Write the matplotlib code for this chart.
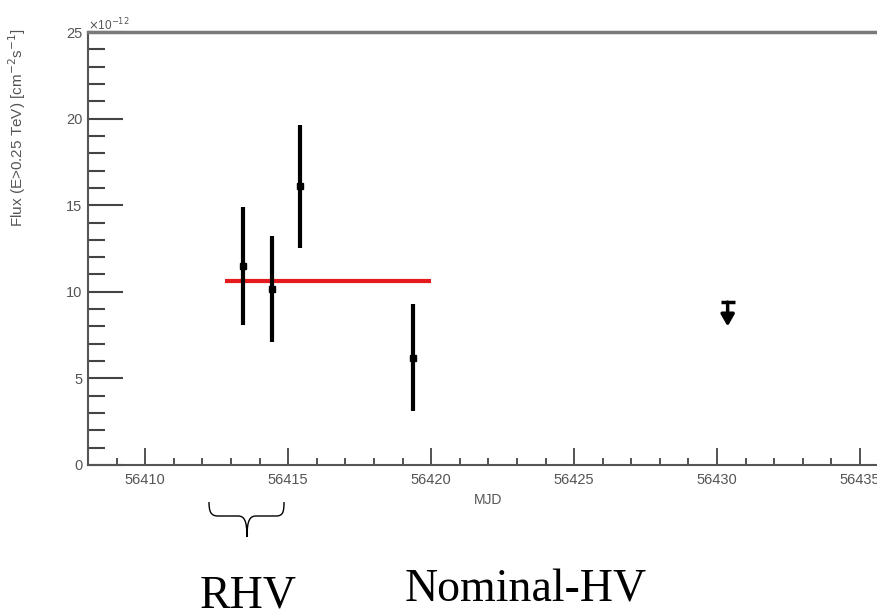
import matplotlib.pyplot as plt
from matplotlib.path import Path
from matplotlib.patches import PathPatch
from matplotlib.ticker import MultipleLocator

# light curve points (MJD, flux in 1e-12 cm-2 s-1)
mjd = [56413.43, 56414.44, 56415.41, 56419.36]
flux = [11.5, 10.15, 16.1, 6.2]
flux_err = [3.4, 3.05, 3.55, 3.08]

# upper limit
ul_mjd = [56430.37]
ul_flux = [9.4]

# constant fit over the period
fit_mjd = [56412.8, 56420.0]
fit_flux = [10.62, 10.62]

W, H = 878, 611
fig = plt.figure(figsize=(W / 100, H / 100), dpi=100)
ax = fig.add_axes([88 / W, 1 - 465 / H, 915 / W, 433 / H])

ax.plot(fit_mjd, fit_flux, color="#e41a1c", lw=3, solid_capstyle="butt", zorder=2)
ax.errorbar(mjd, flux, yerr=flux_err, fmt="s", ms=5, color="black",
            ecolor="black", elinewidth=3, capsize=0, zorder=3)

# upper limit arrow
for x, y in zip(ul_mjd, ul_flux):
    ax.annotate("", xy=(x, y - 1.4), xytext=(x, y),
                arrowprops=dict(arrowstyle="-|>,head_width=0.4,head_length=0.7",
                                color="black", lw=2.5, shrinkA=0, shrinkB=0))
ax.plot(ul_mjd, ul_flux, marker="_", ms=10, mew=2.5, color="black", ls="none")

ax.set_xlim(56408, 56440)
ax.set_ylim(0, 25)
ax.xaxis.set_major_locator(MultipleLocator(5))
ax.xaxis.set_minor_locator(MultipleLocator(1))
ax.yaxis.set_major_locator(MultipleLocator(5))
ax.yaxis.set_minor_locator(MultipleLocator(1))
ax.tick_params(axis="y", which="major", direction="in", length=25, width=1.5, color="#444444")
ax.tick_params(axis="y", which="minor", direction="in", length=12, width=1.5, color="#444444")
ax.tick_params(axis="x", which="major", direction="in", length=12, width=1.3, color="#444444")
ax.tick_params(axis="x", which="minor", direction="in", length=5, width=1.3, color="#444444")
ax.tick_params(axis="both", labelsize=10.5, labelcolor="#555555", pad=6)
for lab in ax.get_xticklabels() + ax.get_yticklabels():
    lab.set_family("Liberation Sans")
ax.tick_params(axis="y", pad=4)

for s in ["left", "bottom", "top"]:
    ax.spines[s].set_color("#555555")
    ax.spines[s].set_linewidth(1.5)
ax.spines["top"].set_linewidth(2.5)
ax.spines["top"].set_color("#7a7a7a")
ax.spines["right"].set_visible(False)

ax.set_xlabel("MJD", fontsize=10, color="#555555", family="Liberation Sans")
ax.xaxis.set_label_coords((488 - 88) / 915, -0.065)
ax.set_ylabel("Flux (E>0.25 TeV) [cm$^{-2}$s$^{-1}$]", fontsize=11,
              color="#555555", family="Liberation Sans")
ax.yaxis.set_label_coords(-(88 - 28) / 915, (465 - 128) / 433)

fig.text(88 / W, 1 - 25 / H, r"$\times$10$^{-12}$", fontsize=8.5, color="#555555",
         family="Liberation Sans", ha="left", va="center")

# curly brace under the RHV points (figure pixel coords)
def px(x, y):
    return (x / W, 1 - y / H)

verts = [px(209, 502), px(209, 512), px(211, 516), px(218, 516),
         px(238, 516),
         px(244, 516), px(247, 520), px(247, 537),
         px(247, 520), px(250, 516), px(256, 516),
         px(276, 516),
         px(283, 516), px(284, 512), px(284, 502)]
codes = [Path.MOVETO, Path.CURVE4, Path.CURVE4, Path.CURVE4,
         Path.LINETO,
         Path.CURVE4, Path.CURVE4, Path.CURVE4,
         Path.CURVE4, Path.CURVE4, Path.CURVE4,
         Path.LINETO,
         Path.CURVE4, Path.CURVE4, Path.CURVE4]
fig.patches.append(PathPatch(Path(verts, codes), transform=fig.transFigure,
                             fill=False, lw=1, color="black"))

fig.text(248 / W, 1 - 607 / H, "RHV", fontsize=33, family="Liberation Serif",
         ha="center", va="baseline")
fig.text(526 / W, 1 - 601 / H, "Nominal-HV", fontsize=33, family="Liberation Serif",
         ha="center", va="baseline")

fig.savefig("out.png", dpi=100)
